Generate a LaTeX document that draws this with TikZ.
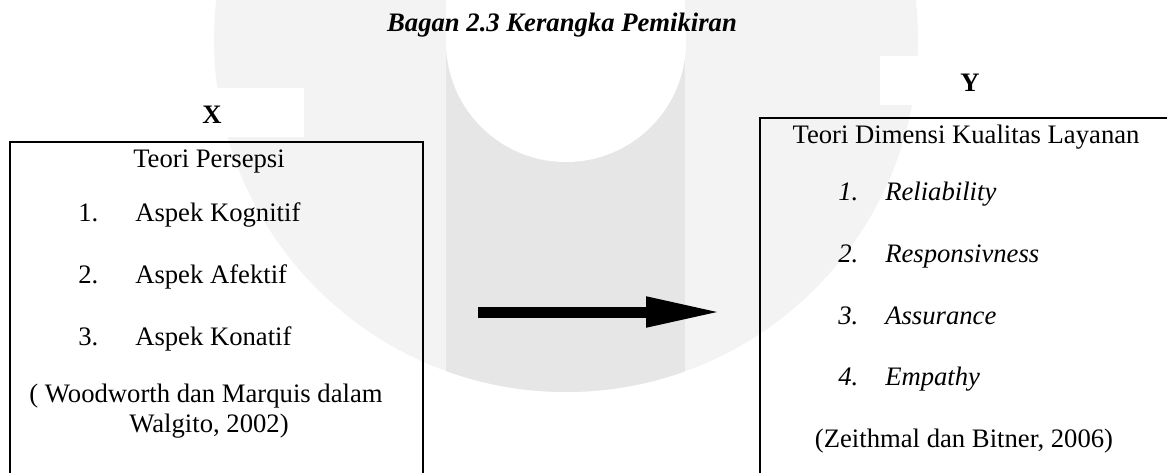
\documentclass[tikz,border=0pt]{standalone}
\usepackage{fontspec}
\setmainfont{Liberation Serif}
\usepackage{tikz}
\usetikzlibrary{arrows.meta}
\usetikzlibrary{positioning}
\tikzset{txt/.style = {inner sep=0pt, font=\fontsize{20}{24}\selectfont}}
\tikzset{item/.style = {txt, anchor=base west}}
\tikzset{head/.style = {txt, anchor=base}}
\tikzset{panel/.style = {draw, line width=1.5pt, anchor=north west, inner sep=0pt}}
\tikzset{bigarrow/.style = {line width=8.25pt, -{Triangle[length=57pt, width=21pt]}}}
\definecolor{wmlight}{RGB}{243,243,244}
\definecolor{wmdark}{RGB}{230,230,230}

\begin{document}
\begin{tikzpicture}[x=0.75pt, y=-0.75pt]
    \useasboundingbox (0,0) rectangle (1167,472);
    \clip (0,0) rectangle (1167,472);
    % watermark
    \fill [wmlight] (566,40) circle (264pt);
    \begin{scope}
      \clip (566,40) circle (264pt);
      \fill [wmdark] (446,0) rectangle (685,472);
    \end{scope}
    \fill [white] (446,0) rectangle (685,42);
    \fill [white] (566,42) circle (90pt);
    \fill [white] (120,88) rectangle (304,137);
    \fill [white] (880,56) rectangle (1167,105);
    % boxes
    \node [panel, minimum width=309.75pt, minimum height=280pt] (boxX) at (9,141) {};
    \node [panel, minimum width=315pt, minimum height=290pt] (boxY) at (759,117) {};
    \node [head] (title) at (562,31) {\bfseries\itshape Bagan 2.3 Kerangka Pemikiran};
    \node [head] (labX) at (212,123) {\bfseries X};
    \node [head] (labY) at (970,91) {\bfseries Y};
    % X side
    \node [head] (teoriX) at (209,167) {Teori Persepsi};
    \node [item] (numX1) at (78,221) {1.};
    \node [item] (itemX1) at (135,221) {Aspek Kognitif};
    \node [item] (numX2) at (78,283) {2.};
    \node [item] (itemX2) at (135,283) {Aspek Afektif};
    \node [item] (numX3) at (78,345) {3.};
    \node [item] (itemX3) at (135,345) {Aspek Konatif};
    \node [head] (refXa) at (206,402) {( Woodworth dan Marquis dalam};
    \node [head] (refXb) at (209,432) {Walgito, 2002)};
    % Y side
    \node [head] (teoriY) at (966,143) {Teori Dimensi Kualitas Layanan};
    \node [item] (numY1) at (838,200) {\itshape 1.};
    \node [item] (itemY1) at (885,200) {\itshape Reliability};
    \node [item] (numY2) at (838,262) {\itshape 2.};
    \node [item] (itemY2) at (885,262) {\itshape Responsivness};
    \node [item] (numY3) at (838,324) {\itshape 3.};
    \node [item] (itemY3) at (885,324) {\itshape Assurance};
    \node [item] (numY4) at (838,385) {\itshape 4.};
    \node [item] (itemY4) at (885,385) {\itshape Empathy};
    \node [head] (refY) at (964,447) {(Zeithmal dan Bitner, 2006)};
    % arrow
    \coordinate (arrS) at (478,312);
    \coordinate (arrE) at (722,312);
    \draw [bigarrow] (arrS) -- (arrE);
  \end{tikzpicture}
\end{document}
